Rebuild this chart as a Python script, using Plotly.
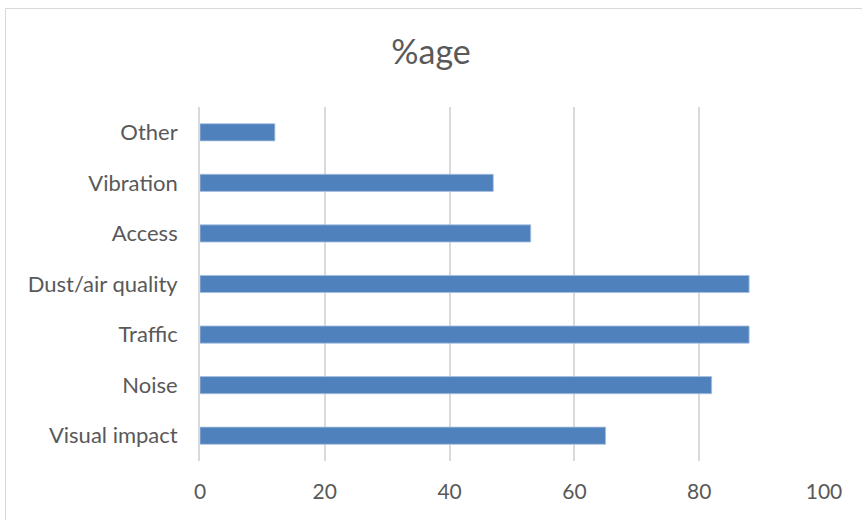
import plotly.graph_objects as go

# Survey responses: share of respondents citing each concern
categories = ["Visual impact", "Noise", "Traffic", "Dust/air quality", "Access", "Vibration", "Other"]
percentages = [65, 82, 88, 88, 53, 47, 12]
x_ticks = [0, 20, 40, 60, 80, 100]

W, H = 862, 520
L, R, T, B = 200, 38, 107, 59
pw, ph = W - L - R, H - T - B

def px_to_paper_x(px):
    return (px - L) / pw

def px_to_paper_y(py):
    return (H - B - py) / ph

fig = go.Figure(
    go.Bar(
        y=categories,
        x=percentages,
        orientation="h",
        marker=dict(color="#4F81BD", line=dict(color="#A9C1E0", width=0.8)),
        hoverinfo="x+y",
    )
)

font_family = "Lato, 'Open Sans', sans-serif"

fig.update_layout(
    width=W,
    height=H,
    margin=dict(l=L, r=R, t=T, b=B),
    paper_bgcolor="white",
    plot_bgcolor="white",
    bargap=0.66,
    showlegend=False,
    title=dict(
        text="%age",
        x=0.5,
        xref="container",
        xanchor="center",
        y=1 - 52 / H,
        yref="container",
        yanchor="middle",
        font=dict(family=font_family, size=34, color="#595959"),
    ),
    font=dict(family=font_family, size=22, color="#595959"),
    xaxis=dict(
        range=[0, 100],
        tickvals=x_ticks,
        showgrid=True,
        gridcolor="#D9D9D9",
        gridwidth=1.8,
        zeroline=False,
        showline=False,
        ticks="outside",
        ticklen=12,
        tickcolor="rgba(0,0,0,0)",
        tickfont=dict(size=21, color="#595959"),
        fixedrange=True,
    ),
    yaxis=dict(
        categoryorder="array",
        categoryarray=categories,
        showgrid=False,
        zeroline=False,
        showline=True,
        linecolor="#D9D9D9",
        linewidth=1.8,
        ticks="outside",
        ticklen=16,
        tickcolor="rgba(0,0,0,0)",
        tickfont=dict(size=22, color="#595959"),
        fixedrange=True,
    ),
    shapes=[
        # outer chart frame
        dict(
            type="rect",
            xref="paper",
            yref="paper",
            x0=px_to_paper_x(5.5),
            x1=px_to_paper_x(875),
            y0=px_to_paper_y(535),
            y1=px_to_paper_y(8.5),
            line=dict(color="#D9D9D9", width=1),
            fillcolor="rgba(0,0,0,0)",
            layer="below",
        )
    ],
)

fig.write_html("out.html")
